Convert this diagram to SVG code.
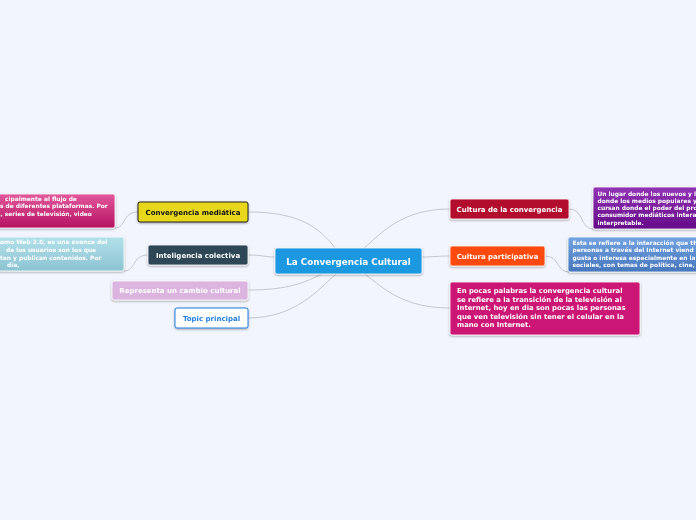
<svg xmlns="http://www.w3.org/2000/svg" width="696" height="520" viewBox="0 0 696 520">
<defs>
<style>
text{font-family:"DejaVu Sans","Verdana",sans-serif;font-weight:bold;}
.t{font-size:7px;fill:#fff;text-anchor:middle;}
.n{font-size:5.9px;fill:#fff;}
.big{font-size:6.85px;fill:#fff;}
.c{fill:none;stroke:#c4c7cf;stroke-width:1;}
</style>
<filter id="sh" x="-10%" y="-20%" width="120%" height="150%">
<feDropShadow dx="0" dy="1" stdDeviation="0.8" flood-color="#000" flood-opacity="0.35"/>
</filter>
<linearGradient id="gPink" x1="0" y1="0" x2="0" y2="1"><stop offset="0" stop-color="#e2589d"/><stop offset="1" stop-color="#b51260"/></linearGradient>
<linearGradient id="gCyan" x1="0" y1="0" x2="0" y2="1"><stop offset="0" stop-color="#b3e1ea"/><stop offset="1" stop-color="#8cc3d2"/></linearGradient>
<linearGradient id="gPurp" x1="0" y1="0" x2="0" y2="1"><stop offset="0" stop-color="#9035b5"/><stop offset="1" stop-color="#650a88"/></linearGradient>
<linearGradient id="gBlue" x1="0" y1="0" x2="0" y2="1"><stop offset="0" stop-color="#72a3e2"/><stop offset="1" stop-color="#4676bb"/></linearGradient>
</defs>
<rect width="696" height="520" fill="#f2f5fd"/>
<g id="connectors">
<path class="c" d="M248,212 C300,212 320,228 335,248"/>
<path class="c" d="M248,255 C262,255 265,257 275,257"/>
<path class="c" d="M248,290 C290,290 305,282 322,274"/>
<path class="c" d="M248,318 C295,318 318,290 336,274"/>
<path class="c" d="M450,209 C400,209 380,235 364,248"/>
<path class="c" d="M450,256 C436,256 434,257 422,257"/>
<path class="c" d="M450,308 C405,308 385,290 365,274"/>
<path class="c" d="M138,212 C122,212 126,228 115,228"/>
<path class="c" d="M148,255 C132,255 136,271 124,271"/>
<path class="c" d="M569,209 C584,209 580,229 593,229"/>
<path class="c" d="M545,256 C560,256 556,272 569,272"/>
</g>
<g id="center" filter="url(#sh)">
<rect x="275" y="248" width="147" height="26" rx="2" fill="#1b98e0" stroke="#fff" stroke-width="0.8"/>
<text class="t" x="348.5" y="264.5" style="font-size:8.8px">La Convergencia Cultural</text>
</g>
<g id="n-convergencia-mediatica" filter="url(#sh)">
<rect x="138" y="202" width="110" height="20" rx="2" fill="#e8d81c" stroke="#222" stroke-width="1"/>
<text class="t" x="193" y="214.5" style="fill:#111">Convergencia mediática</text>
</g>
<g id="n-inteligencia-colectiva" filter="url(#sh)">
<rect x="148" y="245" width="100" height="20" rx="2" fill="#2d4757" stroke="#fff" stroke-width="0.8"/>
<text class="t" x="198" y="257.5">Inteligencia colectiva</text>
</g>
<g id="n-representa" filter="url(#sh)">
<rect x="112" y="281" width="136" height="19" rx="2" fill="#dbb4df" stroke="#fff" stroke-width="0.8"/>
<text class="t" x="180" y="293">Representa un cambio cultural</text>
</g>
<g id="n-topic" filter="url(#sh)">
<rect x="175" y="308" width="73" height="20" rx="2" fill="#fff" stroke="#1f7fe0" stroke-width="1"/>
<text class="t" x="211.5" y="320.5" style="fill:#1f7fe0">Topic principal</text>
</g>
<g id="n-cultura-convergencia" filter="url(#sh)">
<rect x="450" y="199" width="119" height="20" rx="2" fill="#b3112e" stroke="#fff" stroke-width="0.8"/>
<text class="t" x="509.5" y="211.5">Cultura de la convergencia</text>
</g>
<g id="n-cultura-participativa" filter="url(#sh)">
<rect x="450" y="246" width="95" height="20" rx="2" fill="#ff4a0c" stroke="#fff" stroke-width="0.8"/>
<text class="t" x="497.5" y="258.5">Cultura participativa</text>
</g>
<g id="n-en-pocas" filter="url(#sh)">
<rect x="450" y="282" width="190" height="53" rx="2" fill="#cc1876" stroke="#fff" stroke-width="0.8"/>
<text class="big" x="457" y="293">En pocas palabras la convergencia cultural</text>
<text class="big" x="457" y="301.5">se refiere a la transición de la televisión al</text>
<text class="big" x="457" y="310">Internet, hoy en dia son pocas las personas</text>
<text class="big" x="457" y="318.5">que ven televisión sin tener el celular en la</text>
<text class="big" x="457" y="327">mano con Internet.</text>
</g>
<g id="note-pink" filter="url(#sh)">
<rect x="-10" y="194" width="125" height="34" rx="2" fill="url(#gPink)" stroke="#fff" stroke-width="0.8"/>
<text class="n" x="5" y="200.5">cipalmente al flujo de</text>
<text class="n" x="0" y="208.3">s de diferentes plataformas. Por</text>
<text class="n" x="-3" y="216">s, series de televisión, video</text>
</g>
<g id="note-cyan" filter="url(#sh)">
<rect x="-10" y="237" width="134" height="34" rx="2" fill="url(#gCyan)" stroke="#fff" stroke-width="0.8"/>
<text class="n" x="0" y="244.3">omo Web 2.0, es una avance del</text>
<text class="n" x="6" y="252">de los usuarios son los que</text>
<text class="n" x="0" y="259.5">tan y publican contenidos. Por</text>
<text class="n" x="7" y="267.2">dia,</text>
</g>
<g id="note-purple" filter="url(#sh)">
<rect x="593" y="187" width="113" height="42" rx="2" fill="url(#gPurp)" stroke="#fff" stroke-width="0.8"/>
<text class="n" x="597.5" y="195.5">Un lugar donde los nuevos y l</text>
<text class="n" x="597.5" y="202.6">donde los medios populares y</text>
<text class="n" x="597.5" y="209.8">cursan donde el poder del pro</text>
<text class="n" x="597.5" y="217">consumidor mediáticos intera</text>
<text class="n" x="597.5" y="224.5">interpretable.</text>
</g>
<g id="note-blue" filter="url(#sh)">
<rect x="568" y="237" width="138" height="35" rx="2" fill="url(#gBlue)" stroke="#fff" stroke-width="0.8"/>
<text class="n" x="572.5" y="245">Esta se refiere a la interacción que th</text>
<text class="n" x="572.5" y="252.3">personas a través del Internet viend</text>
<text class="n" x="572.5" y="259.6">gusta o interesa especialmente en la</text>
<text class="n" x="572.5" y="267.3">sociales, con temas de política, cine,</text>
</g>
</svg>
